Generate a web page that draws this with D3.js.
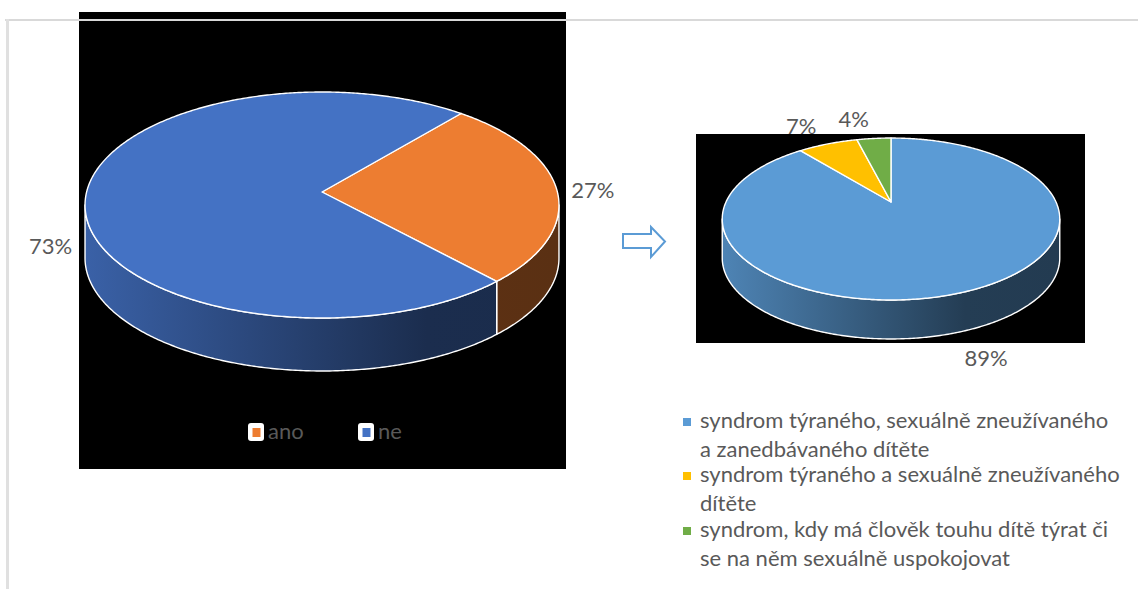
<!DOCTYPE html>
<html>
<head>
<meta charset="utf-8">
<script src="https://cdn.jsdelivr.net/npm/d3@7"></script>
<style>
  body { margin: 0; background: #fff; }
  svg { display: block; font-family: Lato, 'Open Sans', sans-serif; }
</style>
</head>
<body>
<svg id="chart" width="1138" height="589"></svg>
<script>
/* global d3 */

// left pie: answers
const leftCategories = ['ano', 'ne']
const leftValues = [27, 73]

// right pie: which syndrome
const rightCategories = [
  'syndrom týraného, sexuálně zneužívaného\na zanedbávaného dítěte',
  'syndrom týraného a sexuálně zneužívaného\ndítěte',
  'syndrom, kdy má člověk touhu dítě týrat či\nse na něm sexuálně uspokojovat'
]
const rightValues = [89, 7, 4]

const leftColors = ['#ed7d31', '#4472c4']
const rightColors = ['#5b9bd5', '#ffc000', '#70ad47']
const textColor = '#595959'

const svg = d3.select('#chart')
const defs = svg.append('defs')

// black plot backgrounds
svg.append('rect').attr('x', 79).attr('y', 12).attr('width', 487).attr('height', 457).attr('fill', '#000')
svg.append('rect').attr('x', 696).attr('y', 134).attr('width', 389).attr('height', 209).attr('fill', '#000')

function drawPie3D (cfg) {
  const g = svg.append('g')
  const halfW = cfg.rx / Math.sqrt(1 - cfg.k * cfg.k)

  // perspective projection of the tilted disc
  function project (theta, r = 1, dy = 0) {
    const u = r * Math.sin(theta)
    const v = -r * Math.cos(theta)
    const w = 1 - cfg.k * v
    return [cfg.cx + cfg.rx * u / w, cfg.apexY + cfg.ry * v / w + dy]
  }

  function rim (a, b, dy) {
    const n = Math.max(2, Math.ceil(Math.abs(b - a) / 0.01))
    return d3.range(n + 1).map(i => project(a + (b - a) * i / n, 1, dy))
  }

  const start = cfg.startDeg * Math.PI / 180
  const arcs = d3.pie().sort(null).startAngle(start).endAngle(start + 2 * Math.PI)(cfg.values)

  // side gradients, lighter on the left
  arcs.forEach((d, i) => {
    const base = d3.color(cfg.colors[i])
    const grad = defs.append('linearGradient')
      .attr('id', `${cfg.id}-side-${i}`)
      .attr('gradientUnits', 'userSpaceOnUse')
      .attr('x1', cfg.cx - halfW).attr('x2', cfg.cx + halfW)
      .attr('y1', 0).attr('y2', 0)
    grad.append('stop').attr('offset', 0).attr('stop-color', base.darker(0.45))
    grad.append('stop').attr('offset', 0.72).attr('stop-color', base.darker(2.6))
    grad.append('stop').attr('offset', 1).attr('stop-color', base.darker(2.7))
  })

  const vis0 = Math.acos(-cfg.k)
  const vis1 = 2 * Math.PI - vis0
  const line = d3.line()

  // sides
  arcs.forEach((d, i) => {
    [-2 * Math.PI, 0, 2 * Math.PI].forEach(shift => {
      const a = Math.max(d.startAngle, vis0 + shift)
      const b = Math.min(d.endAngle, vis1 + shift)
      if (b <= a) return
      const pts = rim(a, b, 0).concat(rim(b, a, cfg.depth))
      g.append('path')
        .attr('d', line(pts) + 'Z')
        .attr('fill', `url(#${cfg.id}-side-${i})`)
        .attr('stroke', '#fff')
        .attr('stroke-width', 1.4)
        .attr('stroke-linejoin', 'round')
    })
  })

  // tops
  const apex = [cfg.cx, cfg.apexY]
  arcs.forEach((d, i) => {
    const pts = [apex].concat(rim(d.startAngle, d.endAngle, 0))
    g.append('path')
      .attr('d', line(pts) + 'Z')
      .attr('fill', cfg.colors[i])
      .attr('stroke', '#fff')
      .attr('stroke-width', 1.4)
      .attr('stroke-linejoin', 'round')
  })

  // percentage labels
  const total = d3.sum(cfg.values)
  arcs.forEach((d, i) => {
    const mid = (d.startAngle + d.endAngle) / 2
    const p = project(mid, 1.15)
    const nudge = cfg.labelNudge[i]
    g.append('text')
      .attr('x', p[0] + nudge[0])
      .attr('y', p[1] + nudge[1])
      .attr('text-anchor', 'middle')
      .attr('dominant-baseline', 'central')
      .attr('fill', textColor)
      .attr('font-size', 22)
      .text(Math.round(d.value / total * 100) + '%')
  })
}

drawPie3D({
  id: 'left',
  cx: 322,
  apexY: 192,
  rx: 235.4,
  ry: 111.5,
  k: 0.115,
  depth: 53,
  startDeg: 40,
  values: leftValues,
  colors: leftColors,
  labelNudge: [[1, 1], [0, 50]]
})

drawPie3D({
  id: 'right',
  cx: 891,
  apexY: 202,
  rx: 165,
  ry: 77.4,
  k: 0.21,
  depth: 39,
  startDeg: 0,
  values: rightValues,
  colors: rightColors,
  labelNudge: [[12, 47], [-19, -11], [-18, -12]]
})

// left legend (inside the black area)
const leftLegend = svg.append('g').attr('transform', 'translate(248,423)')
  .selectAll('g').data(leftCategories).enter().append('g')
  .attr('transform', (d, i) => `translate(${i * 110},0)`)
leftLegend.append('rect')
  .attr('width', 16).attr('height', 18).attr('rx', 3)
  .attr('fill', '#fff')
leftLegend.append('rect')
  .attr('x', 4.5).attr('y', 5).attr('width', 8).attr('height', 9)
  .attr('fill', (d, i) => leftColors[i])
leftLegend.append('text')
  .attr('x', 20).attr('y', 16)
  .attr('fill', textColor)
  .attr('font-size', 22)
  .text(d => d)

// right legend
const itemTops = [428, 482, 537]
const rightLegend = svg.append('g')
  .selectAll('g').data(rightCategories).enter().append('g')
  .attr('transform', (d, i) => `translate(683,${itemTops[i]})`)
rightLegend.append('rect')
  .attr('y', -10).attr('width', 8).attr('height', 8)
  .attr('fill', (d, i) => rightColors[i])
rightLegend.append('text')
  .attr('fill', textColor)
  .attr('font-size', 22)
  .selectAll('tspan').data(d => d.split('\n')).enter().append('tspan')
  .attr('x', 17)
  .attr('y', (d, j) => j * 29)
  .text(d => d)

// arrow between the charts
svg.append('path')
  .attr('d', 'M623,234H651V227L665,241.5L651,257V248H623Z')
  .attr('fill', '#fff')
  .attr('stroke', '#5b9bd5')
  .attr('stroke-width', 2)

// grey frame
svg.append('line').attr('x1', 5).attr('x2', 1138).attr('y1', 20).attr('y2', 20)
  .attr('stroke', '#d9d9d9').attr('stroke-width', 2)
svg.append('line').attr('x1', 7.5).attr('x2', 7.5).attr('y1', 19).attr('y2', 589)
  .attr('stroke', '#e0e0e0').attr('stroke-width', 3)
</script>
</body>
</html>
